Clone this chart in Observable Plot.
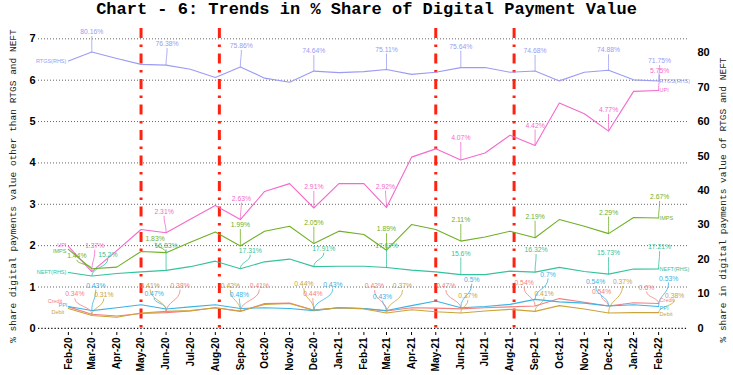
<!DOCTYPE html>
<html><head><meta charset="utf-8">
<script src="https://cdn.jsdelivr.net/npm/d3@7"></script>
<script src="https://cdn.jsdelivr.net/npm/@observablehq/plot@0.6"></script>
<style>
body{margin:0;background:#fff;width:733px;height:375px;overflow:hidden;}
#title{height:24px;line-height:29px;text-align:center;font:bold 17px "Liberation Mono",monospace;color:#000;white-space:nowrap;overflow:visible;}
#chart svg{display:block;}
</style></head><body>
<div id="title">Chart - 6: Trends in % Share of Digital Payment Value</div>
<div id="chart"></div>
<script>
// ---- data ----
const months = ["Feb-20","Mar-20","Apr-20","May-20","Jun-20","Jul-20","Aug-20","Sep-20","Oct-20","Nov-20","Dec-20",
  "Jan-21","Feb-21","Mar-21","Apr-21","May-21","Jun-21","Jul-21","Aug-21","Sep-21","Oct-21","Nov-21","Dec-21","Jan-22","Feb-22"];
const rtgs   = [77.6,80.16,78.3,76.6,76.38,75.2,72.8,75.86,72.6,71.4,74.64,74.2,74.5,75.11,73.7,74.3,75.64,75.7,74.3,74.68,71.8,74.3,74.88,72.1,71.75];
const neft   = [16.2,15.2,15.9,16.4,16.83,17.9,19.5,17.31,19.3,20.1,17.91,18.0,18.0,17.67,16.9,16.4,15.6,15.6,16.6,16.32,17.7,16.5,15.73,17.2,17.21];
const upi    = [1.98,1.37,1.88,2.39,2.31,2.64,2.97,2.63,3.31,3.50,2.91,3.50,3.50,2.92,4.14,4.34,4.07,4.24,4.67,4.42,5.45,5.19,4.77,5.73,5.75];
const imps   = [1.91,1.44,1.48,1.86,1.83,2.08,2.33,1.99,2.35,2.47,2.05,2.35,2.27,1.89,2.51,2.39,2.11,2.21,2.35,2.19,2.63,2.47,2.29,2.68,2.67];
const credit = [0.52,0.34,0.30,0.36,0.38,0.42,0.50,0.41,0.60,0.61,0.44,0.50,0.48,0.42,0.50,0.49,0.47,0.50,0.52,0.54,0.72,0.63,0.54,0.62,0.60];
const ppi    = [0.53,0.43,0.50,0.57,0.47,0.52,0.57,0.48,0.50,0.48,0.43,0.50,0.48,0.43,0.55,0.66,0.50,0.53,0.58,0.70,0.64,0.61,0.54,0.57,0.53];
const debit  = [0.48,0.31,0.27,0.37,0.41,0.43,0.50,0.42,0.58,0.60,0.44,0.50,0.47,0.37,0.45,0.40,0.37,0.42,0.46,0.41,0.55,0.47,0.37,0.38,0.38];
const labelMonths = ["Mar-20","Jun-20","Sep-20","Dec-20","Mar-21","Jun-21","Sep-21","Dec-21","Feb-22"];
const eventDates = ["2020-05-01","2020-08-06","2021-05-01","2021-08-06"];
const leftTicks = [0,1,2,3,4,5,6,7];
const rightTicks = [0,10,20,30,40,50,60,70,80];
const RHS = 12; // right axis units per left axis unit

// ---- styling / layout ----
const series = [
  {key:"RTGS", name:"RTGS(RHS)", values:rtgs, rhs:true, color:"#9b9bf4"},
  {key:"NEFT", name:"NEFT(RHS)", values:neft, rhs:true, color:"#35c29c"},
  {key:"UPI", name:"UPI", values:upi, rhs:false, color:"#f46acb"},
  {key:"IMPS", name:"IMPS", values:imps, rhs:false, color:"#6fb026"},
  {key:"Credit", name:"Credit", values:credit, rhs:false, color:"#f47f7f"},
  {key:"PPI", name:"PPI", values:ppi, rhs:false, color:"#3ab3e6"},
  {key:"Debit", name:"Debit", values:debit, rhs:false, color:"#c9a43a"}
];
const nudge = {
  RTGS:  [[0,-20],[1,-21],[1,-21],[0,-20],[0,-20],[0,-21],[0,-20],[0,-20],[1,-20]],
  UPI:   [[3,-26],[-2,-21],[1,-21],[0,-21],[-1,-21],[0,-22],[0,-20],[0,-21],[1,-20]],
  IMPS:  [[-15,-13],[-11,-14],[0,-21],[0,-21],[0,-21],[0,-21],[0,-21],[0,-21],[1,-21]],
  NEFT:  [[16,-21],[0,-25],[10,-18],[10,-18],[0,-22],[0,-21],[1,-22],[0,-21],[1,-22]],
  Credit:[[-17,-20],[14,-27],[19,-26],[-1,-16],[-12,-25],[-15,-23],[-11,-23],[-7,-14],[-12,-16]],
  PPI:   [[4,-25],[-12,-15],[-1,-14],[19,-26],[-4,-14],[11,-28],[13,-25],[-13,-24],[10,-28]],
  Debit: [[12,-21],[-16,-26],[-10,-25],[-10,-26],[16,-27],[7,-17],[9,-18],[14,-31],[16,-17]]
};
const leftNameDy = {RTGS:0, NEFT:0, UPI:-1, IMPS:2, Credit:-6, PPI:-1, Debit:4};
const leftNameDx = {RTGS:-2, NEFT:-2, UPI:-2, IMPS:-2, Credit:-6, PPI:-1, Debit:-4};
const rightNameDy = {RTGS:0, NEFT:0, UPI:0, IMPS:0, Credit:-3, PPI:2, Debit:2};

const dates = months.map((m,i)=>new Date(2020, 1+i, 1));
const fmtMonth = d => { const i = dates.findIndex(t => +t === +d); return i >= 0 ? months[i] : ""; };
const fmtPct = v => `${+v.toFixed(2)}%`;
const yOf = (s, v) => s.rhs ? v / RHS : v;

const base = {
  width: 733, height: 351,
  marginLeft: 38, marginRight: 45, marginTop: 4, marginBottom: 43,
  x: {type: "time", domain: [new Date(2019, 11, 26), new Date(2022, 2, 10)]},
  y: {type: "linear", domain: [-0.1, 7.25]},
  style: {fontFamily: "'Liberation Sans', Arial, sans-serif", background: "white", overflow: "visible"}
};

// probe plot to obtain the scales for pixel nudges
const probe = Plot.plot({...base, marks: [Plot.dot([0], {x: () => dates[0], y: () => 0})]});
const xs = probe.scale("x"), ys = probe.scale("y");

const labels = [];
for (const s of series) {
  labelMonths.forEach((m, j) => {
    const i = months.indexOf(m);
    const v = s.values[i], yv = yOf(s, v);
    const px = xs.apply(dates[i]), py = ys.apply(yv);
    const [dx, dy] = nudge[s.key][j];
    labels.push({
      text: fmtPct(v), color: s.color,
      x: dates[i], y: yv,
      lx: xs.invert(px + dx), ly: ys.invert(py + dy),
      ex: xs.invert(px + dx), ey: ys.invert(py + dy + 4)
    });
  });
}

const marks = [
  Plot.ruleY(leftTicks.filter(d => d > 0), {stroke: "#666", strokeDasharray: "1,2", strokeWidth: 1}),
  Plot.ruleY([0], {stroke: "#111", strokeDasharray: "1.3,2", strokeWidth: 1.2}),
  Plot.ruleX(eventDates.map(d => new Date(d + "T00:00:00")), {stroke: "#ff2210", strokeWidth: 3, strokeDasharray: "10,6.5,2.5,6.5"}),
  ...series.map(s => Plot.line(s.values.map((v, i) => ({x: dates[i], y: yOf(s, v)})), {x: "x", y: "y", stroke: s.color, strokeWidth: 1.1})),
  Plot.link(labels, {x1: "x", y1: "y", x2: "ex", y2: "ey", stroke: d => d.color, strokeWidth: 0.8, curve: "bump-y"}),
  Plot.text(labels, {x: "lx", y: "ly", text: "text", fill: d => d.color, fontSize: 6.8, textAnchor: "middle"}),
  ...series.map(s => Plot.text([s], {x: () => dates[0], y: d => yOf(d, d.values[0]), text: "name", fill: s.color, fontSize: 5.5, textAnchor: "end", dx: leftNameDx[s.key], dy: leftNameDy[s.key]})),
  ...series.map(s => Plot.text([s], {x: () => dates[dates.length-1], y: d => yOf(d, d.values[d.values.length-1]), text: "name", fill: s.color, fontSize: 5.5, textAnchor: "start", dx: 1, dy: rightNameDy[s.key]})),
  Plot.axisY(leftTicks, {anchor: "left", tickSize: 0, tickPadding: 3, fontSize: 11, fontWeight: "bold", label: null}),
  Plot.axisY(rightTicks.map(t => t / RHS), {anchor: "right", tickSize: 0, tickPadding: 9, fontSize: 11, fontWeight: "bold", tickFormat: d => Math.round(d * RHS), label: null}),
  Plot.axisX(dates, {anchor: "bottom", tickSize: 3, tickPadding: 2, tickRotate: -90, fontSize: 10, fontWeight: "bold", tickFormat: fmtMonth, label: null})
];

const chart = Plot.plot({...base, marks});
const svg = d3.select(chart);
svg.selectAll("[aria-label$='tick label'] text").style("font-weight", "bold");
svg.append("text")
  .attr("transform", `translate(13,${186-24}) rotate(-90)`)
  .attr("text-anchor", "middle").attr("dominant-baseline", "middle")
  .style("font-family", "'Liberation Mono', monospace").style("font-size", "9.5px").attr("fill", "#222")
  .text("% share digital payments value other than RTGS and NEFT");
svg.append("text")
  .attr("transform", `translate(723,${200-24}) rotate(-90)`)
  .attr("text-anchor", "middle").attr("dominant-baseline", "middle")
  .style("font-family", "'Liberation Mono', monospace").style("font-size", "9.5px").attr("fill", "#222")
  .text("% share in digital payments value of RTGS and NEFT");
document.getElementById("chart").appendChild(chart);
</script>
</body></html>
